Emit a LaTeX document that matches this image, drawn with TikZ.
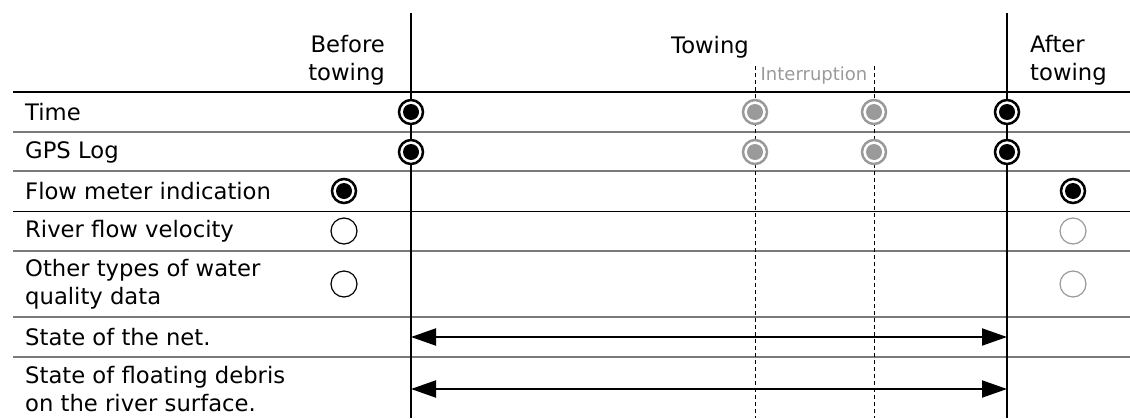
\documentclass[tikz,border=0pt]{standalone}
\usepackage{fontspec}
\setmainfont{DejaVu Sans}
\usetikzlibrary{arrows.meta}
\definecolor{mute}{HTML}{9A9A9A}
\definecolor{rule}{HTML}{7A7A7A}
\tikzset{
        lbl/.style={anchor=west, align=left, inner sep=0pt, font=\fontsize{22.7}{27.5}\selectfont},
        hdr/.style={inner sep=0pt, font=\fontsize{22.7}{27.5}\selectfont},
        mark full/.style={circle, draw=#1, line width=2.5pt, fill=white, minimum size=24pt, inner sep=0pt,
                path picture={\fill[#1] (path picture bounding box.center) circle (8pt);}},
        mark open/.style={circle, draw=#1, line width=1.2pt, fill=white, minimum size=26pt, inner sep=0pt},
        phase/.style={line width=1.5pt},
        pause/.style={line width=0.8pt, dash pattern=on 4pt off 3pt},
        span/.style={line width=2pt, {Triangle[length=25pt,width=17pt]}-{Triangle[length=25pt,width=17pt]}}
}
\begin{document}
\begin{tikzpicture}[x=1pt, y=-1pt]
        \useasboundingbox (0,0) rectangle (1130,418);

        \coordinate (s0) at (411,13);
        \coordinate (s1) at (411,418);
        \coordinate (e0) at (1007,13);
        \coordinate (e1) at (1007,418);
        \coordinate (i0) at (755,66);
        \coordinate (i1) at (755,418);
        \coordinate (j0) at (874,66);
        \coordinate (j1) at (874,418);
        \coordinate (r0) at (13,92);    \coordinate (r0e) at (1130,92);
        \coordinate (r1) at (13,132);   \coordinate (r1e) at (1130,132);
        \coordinate (r2) at (13,171);   \coordinate (r2e) at (1130,171);
        \coordinate (r3) at (13,211);   \coordinate (r3e) at (1130,211);
        \coordinate (r4) at (13,251);   \coordinate (r4e) at (1130,251);
        \coordinate (r5) at (13,317);   \coordinate (r5e) at (1130,317);
        \coordinate (r6) at (13,357);   \coordinate (r6e) at (1130,357);

        \draw[line width=1.3pt] (r0) -- (r0e);
        \draw[rule, line width=1.1pt] (r1) -- (r1e);
        \draw[rule, line width=1.1pt] (r2) -- (r2e);
        \draw[line width=1pt] (r3) -- (r3e);
        \draw[rule, line width=1.1pt] (r4) -- (r4e);
        \draw[rule, line width=1.1pt] (r5) -- (r5e);
        \draw[rule, line width=1.1pt] (r6) -- (r6e);

        \draw[phase] (s0) -- (s1);
        \draw[phase] (e0) -- (e1);
        \draw[pause] (i0) -- (i1);
        \draw[pause] (j0) -- (j1);

        \node[hdr, anchor=base east] (before) at (385,52) {Before};
        \node[hdr, anchor=base east] (beforeb) at (385,80) {towing};
        \node[hdr, anchor=base] (towing) at (710,53) {Towing};
        \node[hdr, anchor=base west] (after) at (1030,52) {After};
        \node[hdr, anchor=base west] (afterb) at (1030,80) {towing};
        \node[inner sep=0pt, anchor=base, text=mute, font=\fontsize{18}{20}\selectfont] (pause) at (814,80) {Interruption};

        \node[lbl] (time) at (25,112) {Time};
        \node[lbl] (gps) at (25,152) {GPS Log};
        \node[lbl] (flow) at (25,191) {Flow meter indication};
        \node[lbl] (river) at (25,231) {River flow velocity};
        \node[lbl] (other) at (25,284) {Other types of water\\quality data};
        \node[lbl] (net) at (25,337) {State of the net.};
        \node[lbl] (debris) at (25,389) {State of floating debris\\on the river surface.};

        \node[mark full=black] (t0) at (411,112) {};
        \node[mark full=mute] (t1) at (755,112) {};
        \node[mark full=mute] (t2) at (874,112) {};
        \node[mark full=black] (t3) at (1007,112) {};
        \node[mark full=black] (g0) at (411,152) {};
        \node[mark full=mute] (g1) at (755,152) {};
        \node[mark full=mute] (g2) at (874,152) {};
        \node[mark full=black] (g3) at (1007,152) {};
        \node[mark full=black] (f0) at (344,191) {};
        \node[mark full=black] (f1) at (1073,191) {};
        \node[mark open=black] (v0) at (344,231) {};
        \node[mark open=mute] (v1) at (1073,231) {};
        \node[mark open=black] (q0) at (344,284) {};
        \node[mark open=mute] (q1) at (1073,284) {};

        \coordinate (n0) at (411,337);
        \coordinate (n1) at (1007,337);
        \coordinate (d0) at (411,389);
        \coordinate (d1) at (1007,389);
        \draw[span] (n0) -- (n1);
        \draw[span] (d0) -- (d1);
\end{tikzpicture}
\end{document}
